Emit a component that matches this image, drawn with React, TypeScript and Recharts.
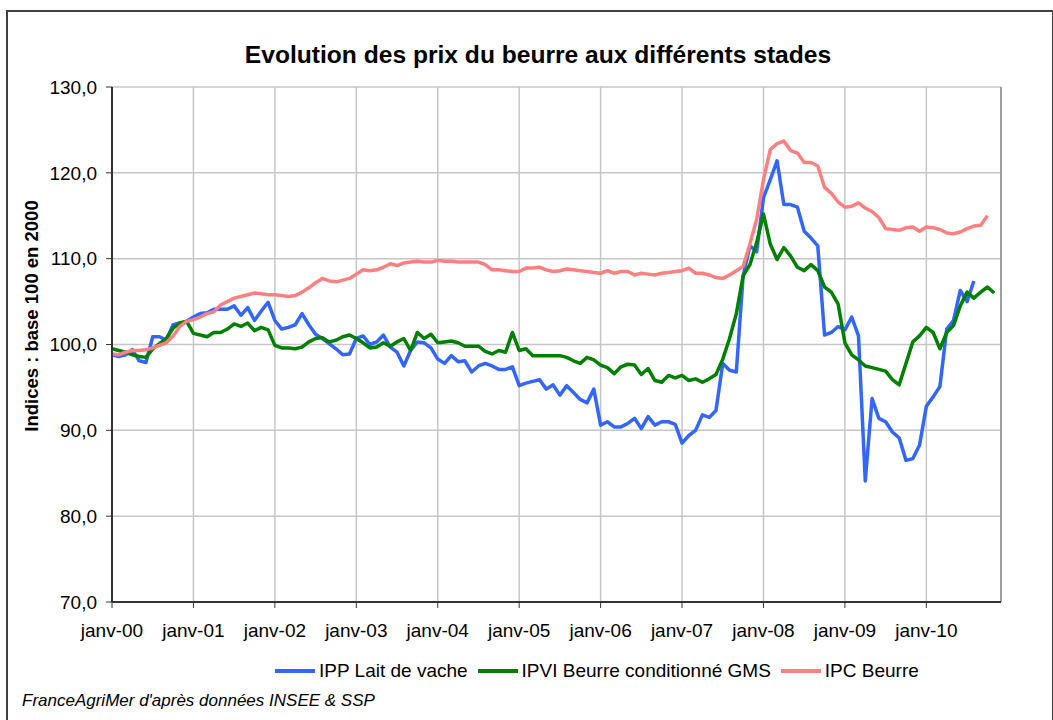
import { LineChart, Line, XAxis, YAxis, CartesianGrid, ReferenceLine } from 'recharts'

const moisCourts = ['janv', 'févr', 'mars', 'avr', 'mai', 'juin', 'juil', 'août', 'sept', 'oct', 'nov', 'déc']
const annees = ['00', '01', '02', '03', '04', '05', '06', '07', '08', '09', '10']
const yTicks = [70, 80, 90, 100, 110, 120, 130]

// IPP Lait de vache (jan 2000 -> aug 2010)
const ippLait = [
  98.8, 98.6, 98.8, 99.4, 98.1, 97.9, 100.9, 100.9, 100.5, 102.3, 102.5, 102.7,
  103.2, 103.6, 103.7, 104.1, 104.1, 104.1, 104.5, 103.4, 104.3, 102.8, 103.9, 104.9,
  102.8, 101.8, 102.0, 102.3, 103.6, 102.3, 101.2, 100.7, 100.1, 99.5, 98.8, 98.9,
  100.7, 101.0, 100.0, 100.3, 101.1, 99.7, 99.1, 97.5, 99.3, 100.3, 100.2, 99.6,
  98.3, 97.8, 98.7, 98.0, 98.1, 96.8, 97.5, 97.8, 97.5, 97.1, 97.1, 97.4,
  95.2, 95.5, 95.7, 95.9, 94.8, 95.3, 94.1, 95.2, 94.4, 93.6, 93.2, 94.8,
  90.6, 91.0, 90.4, 90.4, 90.8, 91.4, 90.2, 91.6, 90.6, 91.0, 91.0, 90.7,
  88.5, 89.4, 90.0, 91.8, 91.5, 92.3, 97.8, 97.0, 96.8, 108.0, 111.5, 110.8,
  117.1, 119.2, 121.4, 116.3, 116.3, 116.0, 113.2, 112.4, 111.5, 101.1, 101.4, 102.1,
  101.7, 103.2, 101.0, 84.1, 93.7, 91.4, 91.0, 89.8, 89.1, 86.5, 86.7, 88.3,
  92.8, 93.9, 95.1, 101.8, 102.8, 106.3, 105.0, 107.4,
]

// IPVI Beurre conditionné GMS (jan 2000 -> nov 2010)
const ipviBeurre = [
  99.5, 99.3, 99.1, 98.8, 98.6, 98.5, 99.5, 100.1, 100.7, 101.9, 102.5, 102.7,
  101.3, 101.1, 100.9, 101.4, 101.4, 101.8, 102.4, 102.1, 102.5, 101.6, 102.0, 101.7,
  99.9, 99.6, 99.6, 99.5, 99.7, 100.3, 100.7, 100.8, 100.3, 100.5, 100.9, 101.1,
  100.7, 100.2, 99.6, 99.7, 100.2, 99.8, 100.3, 100.7, 99.3, 101.4, 100.7, 101.2,
  100.2, 100.3, 100.4, 100.2, 99.8, 99.8, 99.8, 99.2, 98.9, 99.3, 99.1, 101.4,
  99.3, 99.5, 98.7, 98.7, 98.7, 98.7, 98.7, 98.5, 98.1, 97.8, 98.5, 98.2,
  97.6, 97.3, 96.6, 97.4, 97.7, 97.6, 96.5, 97.2, 95.8, 95.6, 96.4, 96.1,
  96.4, 95.8, 96.0, 95.6, 96.0, 96.5, 98.3, 100.7, 103.6, 108.0, 109.3, 111.9,
  115.2, 111.7, 109.9, 111.3, 110.3, 109.0, 108.6, 109.3, 108.6, 106.7, 106.1, 104.7,
  100.2, 98.8, 98.2, 97.5, 97.3, 97.1, 96.9, 95.9, 95.3, 97.8, 100.3, 101.0,
  102.0, 101.4, 99.5, 101.4, 102.2, 104.5, 106.1, 105.4, 106.1, 106.7, 106.0,
]

// IPC Beurre (jan 2000 -> oct 2010)
const ipcBeurre = [
  98.9, 98.8, 99.1, 99.3, 99.3, 99.4, 99.6, 99.9, 100.2, 101.0, 102.1, 102.7,
  102.9, 103.2, 103.6, 103.8, 104.6, 105.0, 105.4, 105.6, 105.8, 106.0, 105.9, 105.8,
  105.8, 105.7, 105.6, 105.7, 106.1, 106.6, 107.2, 107.7, 107.4, 107.3, 107.5, 107.7,
  108.2, 108.7, 108.6, 108.7, 109.0, 109.4, 109.2, 109.5, 109.6, 109.7, 109.6, 109.6,
  109.8, 109.7, 109.7, 109.6, 109.6, 109.6, 109.6, 109.3, 108.7, 108.7, 108.6, 108.5,
  108.5, 108.9, 108.9, 109.0, 108.7, 108.5, 108.6, 108.8, 108.7, 108.6, 108.5, 108.4,
  108.3, 108.6, 108.3, 108.5, 108.5, 108.1, 108.3, 108.2, 108.1, 108.3, 108.4, 108.5,
  108.6, 108.9, 108.3, 108.3, 108.1, 107.8, 107.7, 108.1, 108.6, 109.1, 111.7, 114.6,
  119.2, 122.7, 123.4, 123.7, 122.6, 122.3, 121.2, 121.2, 120.8, 118.3, 117.6, 116.6,
  116.0, 116.1, 116.5, 115.9, 115.5, 114.8, 113.5, 113.4, 113.3, 113.6, 113.7, 113.2,
  113.7, 113.6, 113.4, 113.0, 112.9, 113.1, 113.5, 113.8, 113.9, 115.0,
]

const series = [
  { key: 'ipp', name: 'IPP Lait de vache', color: '#3366FF', values: ippLait },
  { key: 'ipvi', name: 'IPVI Beurre conditionné GMS', color: '#008000', values: ipviBeurre },
  { key: 'ipc', name: 'IPC Beurre', color: '#FF8080', values: ipcBeurre },
]

const categories = annees.flatMap((a) => moisCourts.map((m) => `${m}-${a}`))
const yearTicks = annees.map((a) => `janv-${a}`)

const data = categories.map((mois, i) => {
  const row: Record<string, string | number | null> = { mois }
  series.forEach((s) => { row[s.key] = s.values[i] ?? null })
  return row
})

const font = '"Liberation Sans", Arial, sans-serif'
const axisColor = '#333333'

function fmt(v: number): string {
  return v.toFixed(1).replace('.', ',')
}

export default function App() {
  return (
    <div style={{ position: 'absolute', left: 0, top: 0, width: 1053, height: 720, overflow: 'hidden', background: '#fff', fontFamily: font }}>
      <div style={{ position: 'absolute', left: 6, top: 10, width: 1044, height: 712, border: '2px solid #404040' }} />

      <div style={{ position: 'absolute', left: 0, top: 43, width: 1076, textAlign: 'center', fontSize: 24.6, fontWeight: 'bold', lineHeight: '24px' }}>
        Evolution des prix du beurre aux différents stades
      </div>

      <LineChart
        width={1053}
        height={720}
        data={data}
        margin={{ top: 87, right: 52, bottom: 78, left: 42 }}
        style={{ position: 'absolute', left: 0, top: 0, fontFamily: font }}
      >
        <CartesianGrid stroke="#c6c6c6" strokeWidth={1.5} />
        <XAxis
          dataKey="mois"
          type="category"
          ticks={yearTicks}
          interval={0}
          height={40}
          tickSize={6}
          tickMargin={16}
          tick={{ fontSize: 19, fill: '#000' }}
          axisLine={{ stroke: axisColor, strokeWidth: 2 }}
          tickLine={{ stroke: axisColor }}
        />
        <YAxis
          domain={[70, 130]}
          ticks={yTicks}
          width={70}
          tickSize={6}
          tickMargin={9}
          tickFormatter={fmt}
          tick={{ fontSize: 19, fill: '#000' }}
          axisLine={{ stroke: axisColor, strokeWidth: 2 }}
          tickLine={{ stroke: axisColor }}
        />
        <ReferenceLine x={categories[categories.length - 1]} stroke="#a0a0a0" strokeWidth={2} />
        {series.map((s) => (
          <Line
            key={s.key}
            dataKey={s.key}
            name={s.name}
            type="linear"
            stroke={s.color}
            strokeWidth={3.5}
            strokeLinejoin="round"
            dot={false}
            activeDot={false}
            isAnimationActive={false}
          />
        ))}
      </LineChart>

      <div
        style={{
          position: 'absolute', left: 32, top: 316, transform: 'translate(-50%, -50%) rotate(-90deg)',
          whiteSpace: 'nowrap', fontSize: 18.5, fontWeight: 'bold', lineHeight: '20px',
        }}
      >
        Indices : base 100 en 2000
      </div>

      <div style={{ position: 'absolute', left: 275, top: 660, height: 22, display: 'flex', alignItems: 'center', fontSize: 19, whiteSpace: 'nowrap' }}>
        {series.map((s) => (
          <div key={s.key} style={{ display: 'flex', alignItems: 'center', marginRight: 10 }}>
            <span style={{ display: 'inline-block', width: 40, height: 4, background: s.color, marginRight: 4 }} />
            <span>{s.name}</span>
          </div>
        ))}
      </div>

      <div style={{ position: 'absolute', left: 22, top: 691, fontSize: 17, fontStyle: 'italic', lineHeight: '20px', whiteSpace: 'nowrap' }}>
        FranceAgriMer d'après données INSEE &amp; SSP
      </div>
    </div>
  )
}
